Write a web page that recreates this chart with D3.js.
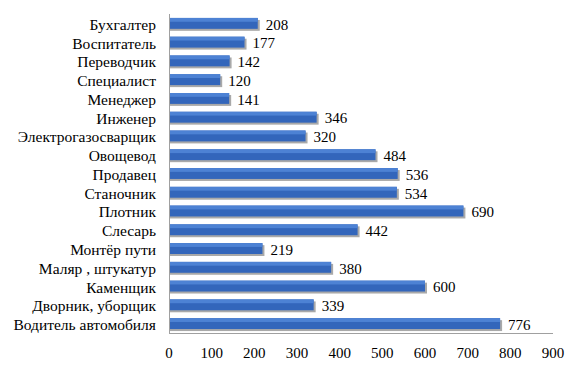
<!DOCTYPE html>
<html>
<head>
<meta charset="utf-8">
<script src="https://cdnjs.cloudflare.com/ajax/libs/d3/7.8.5/d3.min.js"></script>
</head>
<body style="margin:0">
<div id="chart"></div>
<script>
// categories top to bottom, with values
var jobs = ["Бухгалтер", "Воспитатель", "Переводчик", "Специалист", "Менеджер",
  "Инженер", "Электрогазосварщик", "Овощевод", "Продавец", "Станочник", "Плотник",
  "Слесарь", "Монтёр пути", "Маляр , штукатур", "Каменщик", "Дворник, уборщик",
  "Водитель автомобиля"];
var counts = [208, 177, 142, 120, 141, 346, 320, 484, 536, 534, 690, 442, 219, 380, 600, 339, 776];
var xTicks = [0, 100, 200, 300, 400, 500, 600, 700, 800, 900];

var width = 579, height = 370;
var plotLeft = 169, plotRight = 553, plotTop = 14, plotBottom = 333;

var svg = d3.select("#chart").append("svg")
  .attr("width", width).attr("height", height);

var x = d3.scaleLinear().domain([0, 900]).range([plotLeft, plotRight]);
var y = d3.scaleBand().domain(jobs).range([plotTop, plotBottom]).paddingInner(0.42).paddingOuter(0.21);

var data = jobs.map(function(j, i) { return { job: j, v: counts[i] }; });

// labels first
data.forEach(function(d) {
  svg.append("text")
    .attr("x", plotLeft - 13)
    .attr("y", y(d.job) + y.bandwidth() / 2 + 1)
    .attr("dy", "0.35em")
    .attr("text-anchor", "end")
    .attr("font-family", "Liberation Serif")
    .attr("font-size", 15.5)
    .text(d.job);
  svg.append("text")
    .attr("x", x(d.v) + 8)
    .attr("y", y(d.job) + y.bandwidth() / 2 + 1)
    .attr("dy", "0.35em")
    .attr("font-family", "Liberation Serif")
    .attr("font-size", 15)
    .text(d.v);
});

xTicks.forEach(function(t) {
  svg.append("text")
    .attr("x", x(t))
    .attr("y", 353)
    .attr("dy", "0.35em")
    .attr("text-anchor", "middle")
    .attr("font-family", "Liberation Serif")
    .attr("font-size", 15)
    .text(t);
});

// bars: shadow, body, lighter top strip
svg.selectAll("rect.shadow").data(data).join("rect")
  .attr("class", "shadow")
  .attr("x", x(0) + 1)
  .attr("y", function(d) { return y(d.job) + 2; })
  .attr("width", function(d) { return x(d.v) - x(0) + 1; })
  .attr("height", y.bandwidth())
  .attr("fill", "#a9a9a9");

svg.selectAll("rect.bar").data(data).join("rect")
  .attr("class", "bar")
  .attr("x", x(0))
  .attr("y", function(d) { return y(d.job); })
  .attr("width", function(d) { return x(d.v) - x(0); })
  .attr("height", y.bandwidth())
  .attr("fill", "#3366bb");

svg.selectAll("rect.hi").data(data).join("rect")
  .attr("class", "hi")
  .attr("x", x(0))
  .attr("y", function(d) { return y(d.job); })
  .attr("width", function(d) { return x(d.v) - x(0); })
  .attr("height", y.bandwidth() * 0.35)
  .attr("fill", "#4d82d4");

// axis lines
svg.append("line").attr("x1", plotLeft + 0.5).attr("x2", plotLeft + 0.5)
  .attr("y1", plotTop).attr("y2", plotBottom + 0.5).attr("stroke", "#a0a0a0");
svg.append("line").attr("x1", plotLeft).attr("x2", plotRight)
  .attr("y1", plotBottom + 0.5).attr("y2", plotBottom + 0.5).attr("stroke", "#a0a0a0");
</script>
</body>
</html>
